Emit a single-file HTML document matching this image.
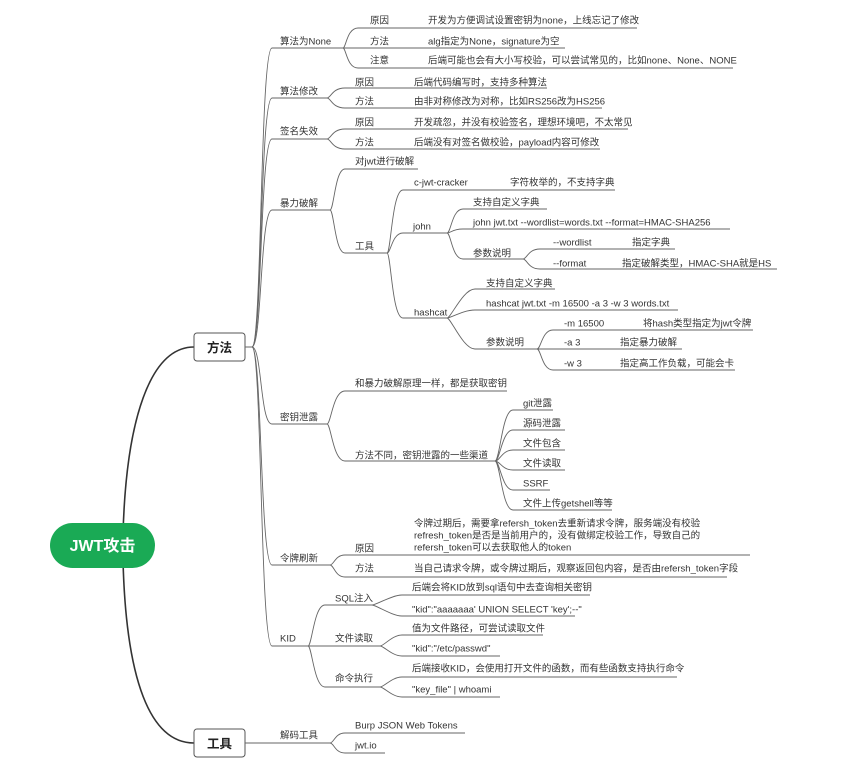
<!DOCTYPE html>
<html><head><meta charset="utf-8"><style>
html,body{margin:0;padding:0;background:#fff;}
svg{display:block;}
text{font-family:"Liberation Sans","Noto Sans CJK SC",sans-serif;font-size:9.5px;fill:#333;}
.l{fill:none;stroke:#666;stroke-width:0.9;}
</style></head><body>
<svg width="843" height="781" viewBox="0 0 843 781" xmlns="http://www.w3.org/2000/svg">
<!-- root connectors -->
<path d="M123 535 C126 420 150 347 194 347" fill="none" stroke="#333" stroke-width="1.6"/>
<path d="M123 560 C126 680 150 743 194 743" fill="none" stroke="#333" stroke-width="1.6"/>
<rect x="50" y="523" width="105" height="45" rx="22.5" fill="#1aaa55"/>
<text x="102.5" y="551" text-anchor="middle" style="font-size:16px;font-weight:bold;fill:#fff">JWT攻击</text>
<rect x="194" y="333" width="51" height="28" rx="3" fill="#fff" stroke="#555" stroke-width="1"/>
<text x="219.5" y="352" text-anchor="middle" style="font-size:12.5px;font-weight:bold;fill:#222">方法</text>
<rect x="194" y="729" width="51" height="28" rx="3" fill="#fff" stroke="#555" stroke-width="1"/>
<text x="219.5" y="748" text-anchor="middle" style="font-size:12.5px;font-weight:bold;fill:#222">工具</text>

<!-- level1 trunk -->
<g class="l">
<path d="M245 347 H252 C262 347 260 48 272 48 H343"/>
<path d="M245 347 H252 C262 347 260 98 272 98 H327"/>
<path d="M245 347 H252 C262 347 260 139 272 139 H327"/>
<path d="M245 347 H252 C262 347 260 210 272 210 H330"/>
<path d="M245 347 H252 C262 347 260 424 272 424 H327"/>
<path d="M245 347 H252 C262 347 260 565 272 565 H330"/>
<path d="M245 347 H252 C262 347 260 646 272 646 H308"/>
<path d="M245 743 H330"/>
</g>
<text x="280" y="44.5">算法为None</text>
<text x="280" y="94.5">算法修改</text>
<text x="280" y="134.5">签名失效</text>
<text x="280" y="206.5">暴力破解</text>
<text x="280" y="420.5">密钥泄露</text>
<text x="280" y="561.5">令牌刷新</text>
<text x="280" y="641.5">KID</text>
<text x="280" y="738.5">解码工具</text>

<g class="l">
<!-- 算法为None -->
<path d="M343 48 C346 48 347 28 358 28 H637"/>
<path d="M343 48 H565"/>
<path d="M343 48 C346 48 347 68 358 68 H733"/>
<!-- 算法修改 -->
<path d="M327 98 C331 98 332 88 345 88 H547"/>
<path d="M327 98 C331 98 332 108 345 108 H602"/>
<!-- 签名失效 -->
<path d="M327 139 C331 139 332 129 345 129 H628"/>
<path d="M327 139 C331 139 332 149 345 149 H600"/>
<!-- 暴力破解 -->
<path d="M330 210 C334 210 335 169 345 169 H418"/>
<path d="M330 210 C334 210 335 253 345 253 H387"/>
<!-- 工具 -->
<path d="M387 253 C391 253 392 190 403 190 H615"/>
<path d="M387 253 C391 253 392 233 403 233 H447"/>
<path d="M387 253 C391 253 392 318 403 318 H447"/>
<!-- john -->
<path d="M447 233 C451 233 452 209 463 209 H547"/>
<path d="M447 233 C451 233 452 229 463 229 H730"/>
<path d="M447 233 C451 233 452 259 463 259 H523"/>
<path d="M523 259 C527 259 528 249 540 249 H675"/>
<path d="M523 259 C527 259 528 269 540 269 H777"/>
<!-- hashcat -->
<path d="M447 318 C451 318 463 289 475 289 H555"/>
<path d="M447 318 C451 318 463 310 475 310 H678"/>
<path d="M447 318 C451 318 463 349 475 349 H537"/>
<path d="M537 349 C541 349 542 330 553 330 H753"/>
<path d="M537 349 H682"/>
<path d="M537 349 C541 349 542 370 553 370 H735"/>
<!-- 密钥泄露 -->
<path d="M327 424 C331 424 333 391 345 391 H507"/>
<path d="M327 424 C331 424 333 461 345 461 H495"/>
<path d="M495 461 C500 461 502 410 513 410 H553"/>
<path d="M495 461 C500 461 502 430 513 430 H565"/>
<path d="M495 461 C500 461 502 450 513 450 H565"/>
<path d="M495 461 C500 461 502 470 513 470 H565"/>
<path d="M495 461 C500 461 502 490 513 490 H550"/>
<path d="M495 461 C500 461 502 510 513 510 H612"/>
<!-- 令牌刷新 -->
<path d="M330 565 C334 565 335 555 345 555 H750"/>
<path d="M330 565 C334 565 335 577 345 577 H727"/>
<!-- KID -->
<path d="M308 646 C312 646 314 605 325 605 H372"/>
<path d="M308 646 H380"/>
<path d="M308 646 C312 646 314 687 325 687 H380"/>
<path d="M372 605 C376 605 392 595 402 595 H590"/>
<path d="M372 605 C376 605 392 616 402 616 H575"/>
<path d="M380 646 C384 646 392 635 402 635 H543"/>
<path d="M380 646 C384 646 392 656 402 656 H500"/>
<path d="M380 687 C384 687 392 677 402 677 H677"/>
<path d="M380 687 C384 687 392 697 402 697 H500"/>
<!-- 解码工具 -->
<path d="M330 743 C334 743 335 733 345 733 H465"/>
<path d="M330 743 C334 743 335 753 345 753 H385"/>
</g>

<!-- 算法为None texts -->
<text x="370" y="23.5">原因</text><text x="428" y="23.5">开发为方便调试设置密钥为none，上线忘记了修改</text>
<text x="370" y="44.5">方法</text><text x="428" y="44.5">alg指定为None，signature为空</text>
<text x="370" y="63.5">注意</text><text x="428" y="63.5">后端可能也会有大小写校验，可以尝试常见的，比如none、None、NONE</text>
<!-- 算法修改 -->
<text x="355" y="85.5">原因</text><text x="414" y="85.5">后端代码编写时，支持多种算法</text>
<text x="355" y="104.5">方法</text><text x="414" y="104.5">由非对称修改为对称，比如RS256改为HS256</text>
<!-- 签名失效 -->
<text x="355" y="125.5">原因</text><text x="414" y="125.5">开发疏忽，并没有校验签名，理想环境吧，不太常见</text>
<text x="355" y="145.5">方法</text><text x="414" y="145.5">后端没有对签名做校验，payload内容可修改</text>
<!-- 暴力破解 -->
<text x="355" y="164.5">对jwt进行破解</text>
<text x="355" y="249.5">工具</text>
<text x="414" y="185.5">c-jwt-cracker</text><text x="510" y="185.5">字符枚举的，不支持字典</text>
<text x="413" y="229.5">john</text>
<text x="414" y="315.5">hashcat</text>
<text x="473" y="205.5">支持自定义字典</text>
<text x="473" y="225.5">john jwt.txt --wordlist=words.txt --format=HMAC-SHA256</text>
<text x="473" y="256.5">参数说明</text>
<text x="553" y="245.5">--wordlist</text><text x="632" y="245.5">指定字典</text>
<text x="553" y="266.5">--format</text><text x="622" y="266.5">指定破解类型，HMAC-SHA就是HS</text>
<text x="486" y="286.5">支持自定义字典</text>
<text x="486" y="306.5">hashcat jwt.txt -m 16500 -a 3 -w 3 words.txt</text>
<text x="486" y="345.5">参数说明</text>
<text x="564" y="326.5">-m 16500</text><text x="643" y="326.5">将hash类型指定为jwt令牌</text>
<text x="564" y="345.5">-a 3</text><text x="620" y="345.5">指定暴力破解</text>
<text x="564" y="366.5">-w 3</text><text x="620" y="366.5">指定高工作负载，可能会卡</text>
<!-- 密钥泄露 -->
<text x="355" y="386.5">和暴力破解原理一样，都是获取密钥</text>
<text x="355" y="458.5">方法不同，密钥泄露的一些渠道</text>
<text x="523" y="406.5">git泄露</text>
<text x="523" y="426.5">源码泄露</text>
<text x="523" y="446.5">文件包含</text>
<text x="523" y="466.5">文件读取</text>
<text x="523" y="486.5">SSRF</text>
<text x="523" y="506.5">文件上传getshell等等</text>
<!-- 令牌刷新 -->
<text x="355" y="551.5">原因</text>
<text x="414" y="526.5">令牌过期后，需要拿refersh_token去重新请求令牌，服务端没有校验</text>
<text x="414" y="538.5">refresh_token是否是当前用户的，没有做绑定校验工作，导致自己的</text>
<text x="414" y="550.5">refersh_token可以去获取他人的token</text>
<text x="355" y="571.5">方法</text><text x="414" y="571.5">当自己请求令牌，或令牌过期后，观察返回包内容，是否由refersh_token字段</text>
<!-- KID -->
<text x="335" y="601.5">SQL注入</text>
<text x="335" y="641.5">文件读取</text>
<text x="335" y="681.5">命令执行</text>
<text x="412" y="590.5">后端会将KID放到sql语句中去查询相关密钥</text>
<text x="412" y="612.5">"kid":"aaaaaaa' UNION SELECT 'key';--"</text>
<text x="412" y="631.5">值为文件路径，可尝试读取文件</text>
<text x="412" y="651.5">"kid":"/etc/passwd"</text>
<text x="412" y="671.5">后端接收KID，会使用打开文件的函数，而有些函数支持执行命令</text>
<text x="412" y="692.5">"key_file" | whoami</text>
<!-- 解码工具 -->
<text x="355" y="728.5">Burp JSON Web Tokens</text>
<text x="355" y="748.5">jwt.io</text>
</svg>
</body></html>
